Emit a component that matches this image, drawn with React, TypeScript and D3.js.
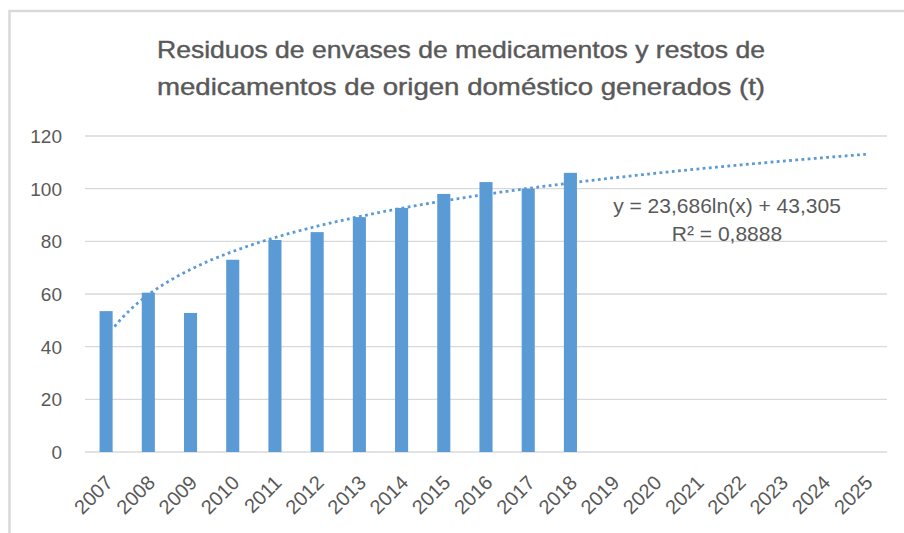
import React from "react";
import * as d3 from "d3";

const years = ["2007","2008","2009","2010","2011","2012","2013","2014","2015","2016","2017","2018","2019","2020","2021","2022","2023","2024","2025"];
const values: (number | null)[] = [53.5, 60.5, 52.8, 73, 80.5, 83.5, 89.2, 92.7, 98, 102.5, 100, 106, null, null, null, null, null, null, null];
const yTicks = [0, 20, 40, 60, 80, 100, 120];
const trendA = 23.686;
const trendB = 43.305;
const trendStart = 1.2;
const titleLines = ["Residuos de envases de medicamentos y restos de", "medicamentos de origen doméstico generados (t)"];
const eqLines = ["y = 23,686ln(x) + 43,305", "R² = 0,8888"];

const W = 904, H = 533;
const left = 85, right = 887, top = 136, bottom = 452;
const BAR = "#5B9BD5";
const TXT = "#595959";
const GRID = "#D9D9D9";
const FONT = "'Liberation Sans', Arial, sans-serif";

export default function App() {
  const x = d3.scaleBand<string>().domain(years).range([left, right]).paddingInner(0.69).paddingOuter(0.345);
  const y = d3.scaleLinear().domain([0, 120]).range([bottom, top]);
  const step = x.step();
  const xNum = (v: number) => (x(years[0]) as number) + x.bandwidth() / 2 + (v - 1) * step;
  const trendPts: [number, number][] = [];
  for (let v = trendStart; v <= years.length + 1e-9; v += 0.05) {
    trendPts.push([v, trendA * Math.log(v) + trendB]);
  }
  const line = d3.line<[number, number]>().x(d => xNum(d[0])).y(d => y(d[1])).curve(d3.curveLinear);

  return (
    <svg width={W} height={H} style={{ position: "absolute", left: 0, top: 0, background: "#fff" }}>
      <rect x={9.5} y={11} width={W + 20} height={H + 20} fill="#fff" stroke={GRID} strokeWidth={2.5} />
      {titleLines.map((t, i) => (
        <text key={i} x={461} y={58 + i * 37} textAnchor="middle" fontFamily={FONT} fontSize={24} fill={TXT}
          stroke={TXT} strokeWidth={0.4} textLength={608} lengthAdjust="spacingAndGlyphs">{t}</text>
      ))}
      {yTicks.map(t => (
        <g key={t}>
          <line x1={left} x2={right} y1={y(t)} y2={y(t)} stroke={GRID} strokeWidth={1.3} />
          <text x={62} y={y(t)} dy="0.36em" textAnchor="end" fontFamily={FONT} fontSize={19} fill={TXT}>{t}</text>
        </g>
      ))}
      {years.map((yr, i) => values[i] == null ? null : (
        <rect key={yr} x={x(yr)} y={y(values[i] as number)} width={x.bandwidth()} height={bottom - y(values[i] as number)} fill={BAR} />
      ))}
      <path d={line(trendPts) || ""} fill="none" stroke={BAR} strokeWidth={2.8} strokeDasharray="2.8 3.4" />
      {years.map(yr => {
        const cx = (x(yr) as number) + x.bandwidth() / 2;
        return (
          <text key={yr} transform={`translate(${cx + 3},${bottom + 27}) rotate(-45)`} textAnchor="end" dy="0.35em"
            fontFamily={FONT} fontSize={20} fill={TXT}>{yr}</text>
        );
      })}
      {eqLines.map((t, i) => (
        <text key={i} x={727} y={213 + i * 28} textAnchor="middle" fontFamily={FONT} fontSize={21} fill={TXT}>{t}</text>
      ))}
    </svg>
  );
}
